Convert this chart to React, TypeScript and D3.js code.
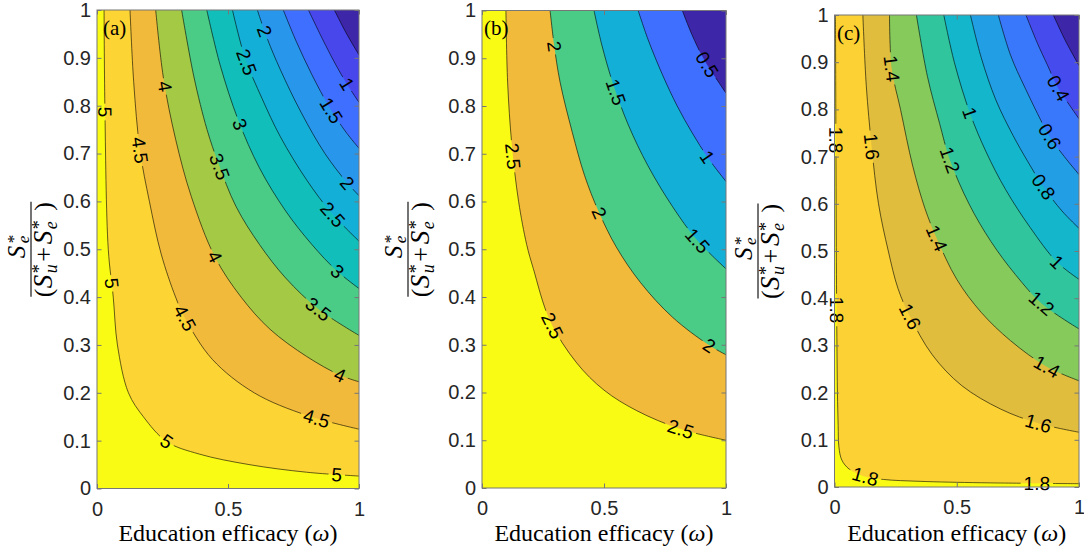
import { useEffect, useRef } from 'react';
import * as d3 from 'd3';

type Pt = [number, number];

interface ContourLabel {
  text: string;
  at: Pt;
}

const W = 1084;
const H = 550;

// parula, sampled at t = 0, 0.1, ... 1
const parula = [
  '#3e26a8', '#4747eb', '#3e6ffe', '#2796eb', '#14afd7', '#12beb9',
  '#4acb86', '#a3c945', '#f2ba3a', '#fcd433', '#f9fb15',
];

const xTicks = [0, 0.5, 1];
const yTicks = [0, 0.1, 0.2, 0.3, 0.4, 0.5, 0.6, 0.7, 0.8, 0.9, 1];

// ---------- panel (a) ----------
const levelsA = [5, 4.5, 4, 3.5, 3, 2.5, 2, 1.5, 1, 0.5];
const linesA: Pt[][] = [
  [[0.027, 1], [0.03, 0.8], [0.043, 0.5], [0.062, 0.4], [0.078, 0.3], [0.12, 0.2], [0.177, 0.15], [0.266, 0.098], [0.39, 0.072], [0.58, 0.05], [0.8, 0.034], [1, 0.026]],
  [[0.126, 1], [0.14, 0.85], [0.164, 0.707], [0.2, 0.6], [0.245, 0.49], [0.3, 0.4], [0.336, 0.356], [0.44, 0.27], [0.6, 0.2], [0.8, 0.153], [1, 0.124]],
  [[0.224, 1], [0.253, 0.86], [0.3, 0.73], [0.36, 0.61], [0.45, 0.484], [0.55, 0.4], [0.66, 0.333], [0.8, 0.276], [0.927, 0.237], [1, 0.223]],
  [[0.323, 1], [0.37, 0.86], [0.42, 0.75], [0.463, 0.68], [0.53, 0.59], [0.62, 0.51], [0.72, 0.44], [0.845, 0.375], [1, 0.32]],
  [[0.419, 1], [0.47, 0.885], [0.539, 0.77], [0.62, 0.67], [0.72, 0.58], [0.82, 0.51], [0.915, 0.455], [1, 0.418]],
  [[0.517, 1], [0.565, 0.9], [0.63, 0.815], [0.7, 0.735], [0.8, 0.645], [0.896, 0.575], [1, 0.517]],
  [[0.612, 1], [0.65, 0.94], [0.7, 0.875], [0.78, 0.785], [0.87, 0.7], [0.953, 0.64], [1, 0.612]],
  [[0.711, 1], [0.76, 0.935], [0.82, 0.865], [0.889, 0.795], [0.95, 0.745], [1, 0.711]],
  [[0.807, 1], [0.86, 0.94], [0.91, 0.887], [0.953, 0.846], [1, 0.807]],
  [[0.906, 1], [0.95, 0.953], [1, 0.906]],
];
const labelsA: ContourLabel[] = [
  { text: '5', at: [0.024, 0.787] },
  { text: '5', at: [0.056, 0.429] },
  { text: '5', at: [0.266, 0.098] },
  { text: '5', at: [0.915, 0.028] },
  { text: '4.5', at: [0.164, 0.707] },
  { text: '4.5', at: [0.336, 0.356] },
  { text: '4.5', at: [0.838, 0.148] },
  { text: '4', at: [0.253, 0.84] },
  { text: '4', at: [0.45, 0.484] },
  { text: '4', at: [0.927, 0.237] },
  { text: '3.5', at: [0.463, 0.672] },
  { text: '3.5', at: [0.845, 0.375] },
  { text: '3', at: [0.539, 0.76] },
  { text: '3', at: [0.915, 0.452] },
  { text: '2.5', at: [0.565, 0.89] },
  { text: '2.5', at: [0.896, 0.57] },
  { text: '2', at: [0.635, 0.955] },
  { text: '2', at: [0.953, 0.637] },
  { text: '1.5', at: [0.889, 0.788] },
  { text: '1', at: [0.953, 0.845] },
];

// ---------- panel (b) ----------
const levelsB = [2.5, 2, 1.5, 1, 0.5];
const linesB: Pt[][] = [
  [[0.098, 1], [0.105, 0.85], [0.122, 0.72], [0.15, 0.6], [0.183, 0.51], [0.21, 0.46], [0.279, 0.35], [0.388, 0.262], [0.5, 0.205], [0.634, 0.162], [0.811, 0.124], [1, 0.1]],
  [[0.279, 1], [0.295, 0.93], [0.32, 0.85], [0.37, 0.745], [0.42, 0.655], [0.477, 0.58], [0.55, 0.505], [0.65, 0.43], [0.78, 0.358], [0.928, 0.3], [1, 0.279]],
  [[0.459, 1], [0.49, 0.93], [0.538, 0.845], [0.6, 0.76], [0.68, 0.675], [0.78, 0.59], [0.88, 0.52], [1, 0.459]],
  [[0.64, 1], [0.68, 0.94], [0.74, 0.865], [0.8, 0.8], [0.86, 0.745], [0.928, 0.69], [1, 0.642]],
  [[0.821, 1], [0.86, 0.95], [0.907, 0.9], [0.95, 0.865], [1, 0.827]],
];
const labelsB: ContourLabel[] = [
  { text: '2.5', at: [0.122, 0.694] },
  { text: '2.5', at: [0.279, 0.338] },
  { text: '2.5', at: [0.811, 0.118] },
  { text: '2', at: [0.286, 0.924] },
  { text: '2', at: [0.477, 0.575] },
  { text: '2', at: [0.928, 0.296] },
  { text: '1.5', at: [0.538, 0.827] },
  { text: '1.5', at: [0.88, 0.516] },
  { text: '1', at: [0.928, 0.695] },
  { text: '0.5', at: [0.907, 0.882] },
];

// ---------- panel (c) ----------
const levelsC = [1.8, 1.6, 1.4, 1.2, 1, 0.8, 0.6, 0.4, 0.2];
const linesC: Pt[][] = [
  [[0.004, 1], [0.006, 0.7], [0.008, 0.45], [0.01, 0.3], [0.012, 0.2], [0.015, 0.13], [0.018, 0.085], [0.03, 0.057], [0.06, 0.038], [0.12, 0.023], [0.2, 0.016], [0.35, 0.012], [0.6, 0.009], [1, 0.007]],
  [[0.116, 1], [0.13, 0.85], [0.152, 0.721], [0.18, 0.6], [0.22, 0.5], [0.26, 0.42], [0.309, 0.361], [0.4, 0.28], [0.52, 0.215], [0.68, 0.165], [0.834, 0.135], [1, 0.116]],
  [[0.225, 1], [0.234, 0.887], [0.27, 0.8], [0.32, 0.68], [0.37, 0.59], [0.418, 0.527], [0.5, 0.44], [0.6, 0.37], [0.72, 0.31], [0.868, 0.255], [1, 0.225]],
  [[0.335, 1], [0.38, 0.87], [0.43, 0.77], [0.472, 0.693], [0.55, 0.6], [0.64, 0.52], [0.74, 0.45], [0.847, 0.389], [1, 0.335]],
  [[0.447, 1], [0.49, 0.9], [0.554, 0.792], [0.62, 0.71], [0.7, 0.63], [0.8, 0.55], [0.909, 0.477], [1, 0.44]],
  [[0.556, 1], [0.6, 0.91], [0.66, 0.82], [0.73, 0.745], [0.79, 0.69], [0.854, 0.636], [0.93, 0.585], [1, 0.548]],
  [[0.67, 1], [0.72, 0.915], [0.78, 0.845], [0.881, 0.742], [0.94, 0.7], [1, 0.662]],
  [[0.783, 1], [0.83, 0.94], [0.87, 0.895], [0.915, 0.845], [0.96, 0.81], [1, 0.78]],
  [[0.895, 1], [0.945, 0.945], [1, 0.893]],
];
const labelsC: ContourLabel[] = [
  { text: '1.8', at: [0.0, 0.735] },
  { text: '1.8', at: [0.0, 0.375] },
  { text: '1.8', at: [0.125, 0.022] },
  { text: '1.8', at: [0.827, 0.009] },
  { text: '1.6', at: [0.152, 0.721] },
  { text: '1.6', at: [0.309, 0.361] },
  { text: '1.6', at: [0.834, 0.135] },
  { text: '1.4', at: [0.234, 0.887] },
  { text: '1.4', at: [0.418, 0.527] },
  { text: '1.4', at: [0.868, 0.255] },
  { text: '1.2', at: [0.472, 0.693] },
  { text: '1.2', at: [0.847, 0.389] },
  { text: '1', at: [0.554, 0.792] },
  { text: '1', at: [0.909, 0.477] },
  { text: '0.8', at: [0.854, 0.636] },
  { text: '0.6', at: [0.881, 0.742] },
  { text: '0.4', at: [0.915, 0.845] },
];

// where each axes sits on the page
const panels = [
  { tag: 'a', levels: levelsA, lines: linesA, labels: labelsA, left: 97, right: 359, top: 10, bottom: 488.5, fracX: 31, tagX: 103, tagY: 35 },
  { tag: 'b', levels: levelsB, lines: linesB, labels: labelsB, left: 482, right: 726, top: 10.5, bottom: 488, fracX: 408, tagX: 484, tagY: 35 },
  { tag: 'c', levels: levelsC, lines: linesC, labels: labelsC, left: 834.5, right: 1079, top: 15, bottom: 487, fracX: 758, tagX: 837, tagY: 40 },
];

const SANS = '"Liberation Sans", Arial, Helvetica, sans-serif';
const SERIF = '"Liberation Serif", "Times New Roman", serif';
const AXIS = '#777777';

export default function App() {
  const svgRef = useRef<SVGSVGElement>(null);

  useEffect(() => {
    if (!svgRef.current) return;
    const svg = d3.select(svgRef.current);
    svg.selectAll('*').remove();

    const defs = svg.append('defs');
    const color = d3.piecewise(d3.interpolateRgb, parula);

    panels.forEach(p => {
      const x = d3.scaleLinear().domain([0, 1]).range([p.left, p.right]);
      const y = d3.scaleLinear().domain([0, 1]).range([p.bottom, p.top]);
      const nb = p.levels.length + 1;

      const clipId = `clip-${p.tag}`;
      defs.append('clipPath').attr('id', clipId)
        .append('rect')
        .attr('x', p.left).attr('y', p.top)
        .attr('width', p.right - p.left).attr('height', p.bottom - p.top);

      const line = d3.line<Pt>()
        .x(d => x(d[0]))
        .y(d => y(d[1]))
        .curve(d3.curveCatmullRom.alpha(0.5));

      // filled bands: highest band as background, then each level's region towards (1,1)
      const fills = svg.append('g').attr('clip-path', `url(#${clipId})`);
      fills.append('rect')
        .attr('x', p.left).attr('y', p.top)
        .attr('width', p.right - p.left).attr('height', p.bottom - p.top)
        .attr('fill', color(1));
      p.lines.forEach((pts, i) => {
        fills.append('path')
          .attr('d', `${line(pts)}L${x(1)},${y(1)}Z`)
          .attr('fill', color((nb - 2 - i) / (nb - 1)));
      });

      // contour lines, broken where labels sit
      const maskId = `mask-${p.tag}`;
      const mask = defs.append('mask').attr('id', maskId)
        .attr('maskUnits', 'userSpaceOnUse')
        .attr('x', 0).attr('y', 0).attr('width', W).attr('height', H);
      mask.append('rect').attr('width', W).attr('height', H).attr('fill', '#fff');

      const strokes = svg.append('g').attr('clip-path', `url(#${clipId})`)
        .append('g').attr('mask', `url(#${maskId})`);
      const paths = p.lines.map(pts =>
        strokes.append('path')
          .attr('d', line(pts))
          .attr('fill', 'none')
          .attr('stroke', '#000')
          .attr('stroke-width', 0.6)
          .node() as SVGPathElement
      );

      const labelG = svg.append('g')
        .style('font-family', SANS)
        .style('font-size', '19px')
        .attr('fill', '#000');

      p.labels.forEach(lb => {
        const node = paths[p.levels.indexOf(+lb.text)];
        if (!node) return;
        const total = node.getTotalLength();
        const px = x(lb.at[0]);
        const py = y(lb.at[1]);
        let best = 0;
        let bestD = Infinity;
        for (let s = 0; s <= total; s += 0.5) {
          const q = node.getPointAtLength(s);
          const dd = (q.x - px) ** 2 + (q.y - py) ** 2;
          if (dd < bestD) { bestD = dd; best = s; }
        }
        const q = node.getPointAtLength(best);
        const a = node.getPointAtLength(Math.max(0, best - 5));
        const b = node.getPointAtLength(Math.min(total, best + 5));
        let ang = Math.atan2(b.y - a.y, b.x - a.x) * 180 / Math.PI;
        if (ang > 90) ang -= 180;
        if (ang <= -90) ang += 180;
        const tr = `translate(${q.x},${q.y}) rotate(${ang})`;
        const t = labelG.append('text')
          .attr('transform', tr)
          .attr('text-anchor', 'middle')
          .attr('dy', '0.35em')
          .text(lb.text);
        const len = (t.node() as SVGTextElement).getComputedTextLength();
        mask.append('rect')
          .attr('transform', tr)
          .attr('x', -len / 2 - 3).attr('y', -7)
          .attr('width', len + 6).attr('height', 14)
          .attr('fill', '#000');
      });

      // axes box + inward ticks
      svg.append('rect')
        .attr('x', p.left).attr('y', p.top)
        .attr('width', p.right - p.left).attr('height', p.bottom - p.top)
        .attr('fill', 'none').attr('stroke', AXIS).attr('stroke-width', 1);

      const fmt = d3.format('~g');
      const styleAxis = (g: d3.Selection<SVGGElement, unknown, null, undefined>) => {
        g.select('.domain').remove();
        g.selectAll('line').attr('stroke', AXIS);
        g.selectAll('text')
          .style('font-family', SANS)
          .style('font-size', '20px')
          .attr('fill', '#262626');
      };

      svg.append('g')
        .attr('transform', `translate(${p.left},0)`)
        .call(d3.axisLeft(y).tickValues(yTicks).tickSize(-4.5).tickPadding(6).tickFormat(d => fmt(d as number)))
        .call(styleAxis);
      svg.append('g')
        .attr('transform', `translate(${p.right},0)`)
        .call(d3.axisRight(y).tickValues(yTicks).tickSize(-4.5).tickFormat(() => ''))
        .call(styleAxis);
      svg.append('g')
        .attr('transform', `translate(0,${p.bottom})`)
        .call(d3.axisBottom(x).tickValues(xTicks).tickSize(-4.5).tickPadding(13).tickFormat(d => fmt(d as number)))
        .call(styleAxis);
      svg.append('g')
        .attr('transform', `translate(0,${p.top})`)
        .call(d3.axisTop(x).tickValues(xTicks).tickSize(-4.5).tickFormat(() => ''))
        .call(styleAxis);

      // x label
      const xl = svg.append('text')
        .attr('x', (p.left + p.right) / 2)
        .attr('y', 541)
        .attr('text-anchor', 'middle')
        .style('font-family', SERIF)
        .style('font-size', '24px')
        .attr('fill', '#000');
      xl.append('tspan').text('Education efficacy (');
      xl.append('tspan').style('font-style', 'italic').text('ω');
      xl.append('tspan').text(')');

      // panel tag
      svg.append('text')
        .attr('x', p.tagX).attr('y', p.tagY)
        .style('font-family', SERIF).style('font-size', '21px')
        .attr('fill', '#000')
        .text(`(${p.tag})`);

      // y label: S_e^* / (S_u^* + S_e^*)
      const cy = (p.top + p.bottom) / 2;
      const yl = svg.append('g')
        .attr('transform', `translate(${p.fracX},${cy}) rotate(-90)`)
        .style('font-family', SERIF)
        .attr('fill', '#000');
      const glyph = (s: string, gx: number, gy: number, size: number, italic: boolean) =>
        yl.append('text').attr('x', gx).attr('y', gy)
          .style('font-size', `${size}px`)
          .style('font-style', italic ? 'italic' : 'normal')
          .text(s);
      glyph('S', -9, -6.5, 25, true);
      glyph('e', 6, -2, 17, true);
      glyph('*', 6, -12, 17, false);
      yl.append('line').attr('x1', -47.5).attr('x2', 47.5)
        .attr('stroke', '#000').attr('stroke-width', 1.1);
      glyph('(', -48, 21, 26, false);
      glyph('S', -39, 21, 27, true);
      glyph('u', -24, 26, 18, true);
      glyph('*', -24, 14, 18, false);
      glyph('+', -12.5, 21, 26, false);
      glyph('S', 5, 21, 27, true);
      glyph('e', 20, 26, 18, true);
      glyph('*', 20, 14, 18, false);
      glyph(')', 38.5, 21, 26, false);
    });
  }, []);

  return (
    <svg
      ref={svgRef}
      width={W}
      height={H}
      style={{ position: 'absolute', left: 0, top: 0, background: '#fff' }}
    />
  );
}
